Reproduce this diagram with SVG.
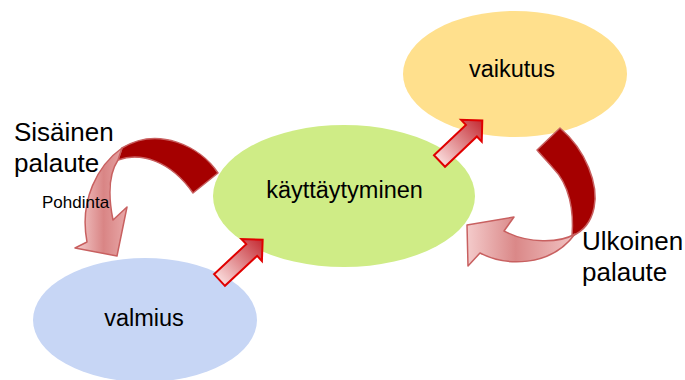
<svg xmlns="http://www.w3.org/2000/svg" width="685" height="380" viewBox="0 0 685 380">
<defs>
<style>
.lbl{font-family:"Liberation Sans",Arial,sans-serif;fill:#000;}
.node{font-size:23.5px;text-anchor:middle;}
.big{font-size:26px;}
.dark{fill:#A50000;stroke:#C86060;stroke-width:1.5;stroke-linejoin:round;}
.sarrow{fill:url(#sg);stroke:#E00000;stroke-width:2;stroke-linejoin:miter;}
</style>
<linearGradient id="sg" x1="0" y1="0" x2="1" y2="0">
<stop offset="0" stop-color="#F9DADA"/>
<stop offset="1" stop-color="#C42A32"/>
</linearGradient>
<linearGradient id="lgL" x1="0" y1="0" x2="1" y2="0">
<stop offset="0" stop-color="#F6CFCF"/>
<stop offset="0.55" stop-color="#D98585"/>
<stop offset="1" stop-color="#E8A8A8"/>
</linearGradient>
<linearGradient id="lgR" x1="0" y1="0" x2="1" y2="0">
<stop offset="0" stop-color="#F4CBCB"/>
<stop offset="0.45" stop-color="#DA8888"/>
<stop offset="1" stop-color="#F2C4C4"/>
</linearGradient>
</defs>
<rect width="685" height="380" fill="#FFFFFF"/>

<g id="vaikutus">
<ellipse cx="515" cy="74" rx="112" ry="63" fill="#FFE08D"/>
<text class="lbl node" x="512" y="77">vaikutus</text>
</g>
<g id="kayttaytyminen">
<ellipse cx="344" cy="196" rx="131" ry="71" fill="#CFEC86"/>
<text class="lbl node" x="344.5" y="198">käyttäytyminen</text>
</g>
<g id="valmius">
<ellipse cx="145" cy="320" rx="112" ry="62" fill="#C7D6F5"/>
<text class="lbl node" x="144" y="326">valmius</text>
</g>

<g id="connectors">
<path class="sarrow" transform="translate(219.5,280) rotate(-43)" d="M0,-8 L44,-8 L44,-15 L59,0 L44,15 L44,8 L0,8 Z"/>
<path class="sarrow" transform="translate(439.5,161) rotate(-43.5)" d="M0,-8 L44,-8 L44,-15 L59,0 L44,15 L44,8 L0,8 Z"/>

<path class="dark" d="M218,173 C200,146 158,126 122,148 L118,160 C140,152 170,160 193,193 Z"/>
<path fill="url(#lgL)" stroke="#C86060" stroke-width="1.5" stroke-linejoin="round" d="M122,148 C98,165 79,200 87,242 L75,248 L117,256 L127,207 L113,220 C108,195 108,175 118,160 Z"/>

<path class="dark" d="M537,150 L560,128 C586,150 599,185 594,208 C591,222 584,231 572,236 C574,212 570,185 553,168 C548,162 542,156 537,150 Z"/>
<path fill="url(#lgR)" stroke="#C86060" stroke-width="1.5" stroke-linejoin="round" d="M514,217 L467,225 L468,266 L480,253 C505,266 550,268 575,234 C560,243 528,244 504,231 Z"/>
</g>

<g id="labels">
<text class="lbl big" x="14" y="141">Sisäinen</text>
<text class="lbl big" x="14" y="172">palaute</text>
<text class="lbl" x="42" y="208" font-size="17">Pohdinta</text>
<text class="lbl big" x="582" y="250">Ulkoinen</text>
<text class="lbl big" x="582" y="281">palaute</text>
</g>
</svg>
